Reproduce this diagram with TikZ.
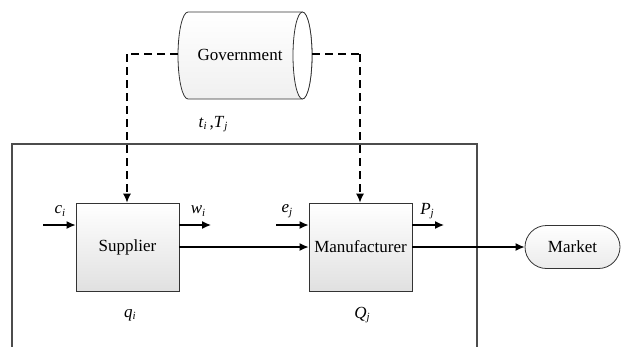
\documentclass[tikz,border=0pt]{standalone}
\usepackage{fontspec}
\setmainfont{Liberation Serif}
\usetikzlibrary{shapes.geometric,shapes.misc,arrows.meta,shadows}
\newcommand{\lab}[2]{\textit{#1}\raisebox{-0.35ex}{\fontsize{11}{11}\selectfont\textit{#2}}}
\begin{document}
\begin{tikzpicture}[x=1pt,y=-1pt,
  font=\fontsize{17}{20}\selectfont,
  blk/.style={draw=black!80, line width=0.8pt, top color=white, bottom color=black!12,
    minimum width=103pt, minimum height=88pt, inner sep=0pt,
    drop shadow={shadow xshift=1pt,shadow yshift=-1pt,opacity=0.25}},
  conn/.style={line width=1.3pt, -{Latex[length=9pt,width=8pt]}},
  dconn/.style={line width=1.2pt, dash pattern=on 8pt off 5pt, -{Latex[length=9pt,width=8pt]}},
  dline/.style={line width=1.2pt, dash pattern=on 8pt off 5pt},
  lbl/.style={inner sep=0pt}]
\useasboundingbox (0,0) rectangle (621,346);
% outer frame
\draw[black!70, line width=1.2pt] (12,350) -- (12,144) -- (477,144) -- (477,350);
% government cylinder (drawn directly)
\draw[black!80, line width=0.8pt, top color=white, bottom color=black!6]
  (302,12) -- (188,12) arc[start angle=270, end angle=90, x radius=10, y radius=43.5]
  -- (302,99) arc[start angle=90, end angle=-90, x radius=10, y radius=43.5] -- cycle;
\draw[black!80, line width=0.8pt, fill=white] (302.5,55.5) ellipse[x radius=9.5, y radius=43.5];
\node[lbl] (gov) at (240,55) {Government};
\coordinate (gW) at (178,54);
\coordinate (gE) at (312,54);
\node[lbl] (tt) at (213,124) {\lab{t}{i}\,,\lab{T}{j}};
% blocks
\node[blk] (sup) at (127.5,247) {Supplier};
\node[blk] (man) at (360.5,247) {Manufacturer};
\node[rounded rectangle, draw=black!80, line width=0.8pt, top color=white, bottom color=black!8,
  minimum width=95pt, minimum height=43pt, inner sep=0pt] (mkt) at (572.5,247) {Market};
% coordinates
\coordinate (gl) at (127,54);
\coordinate (gr) at (360,54);
\coordinate (cin) at (43,225);
\coordinate (win) at (211,225);
\coordinate (ein) at (276,225);
\coordinate (pout) at (444,225);
% dashed
\draw[dline] (gW) -- (gl);
\draw[dconn] (gl) -- (sup.north -| gl);
\draw[dline] (gE) -- (gr);
\draw[dconn] (gr) -- (man.north -| gr);
% arrows
\draw[conn] (cin) -- (sup.west |- cin);
\draw[conn] (sup.east |- win) -- (win);
\draw[conn] (ein) -- (man.west |- ein);
\draw[conn] (man.east |- pout) -- (pout);
\draw[conn] (sup.east) -- (man.west);
\draw[conn] (man.east) -- (mkt.west);
% labels
\node[lbl] (c) at (60,211) {\lab{c}{i}};
\node[lbl] (w) at (198,211) {\lab{w}{i}};
\node[lbl] (e) at (287,211) {\lab{e}{j}};
\node[lbl] (p) at (427,211) {\lab{P}{j}};
\node[lbl] (q) at (130,315) {\lab{q}{i}};
\node[lbl] (Q) at (362,315) {\lab{Q}{j}};
\end{tikzpicture}
\end{document}
